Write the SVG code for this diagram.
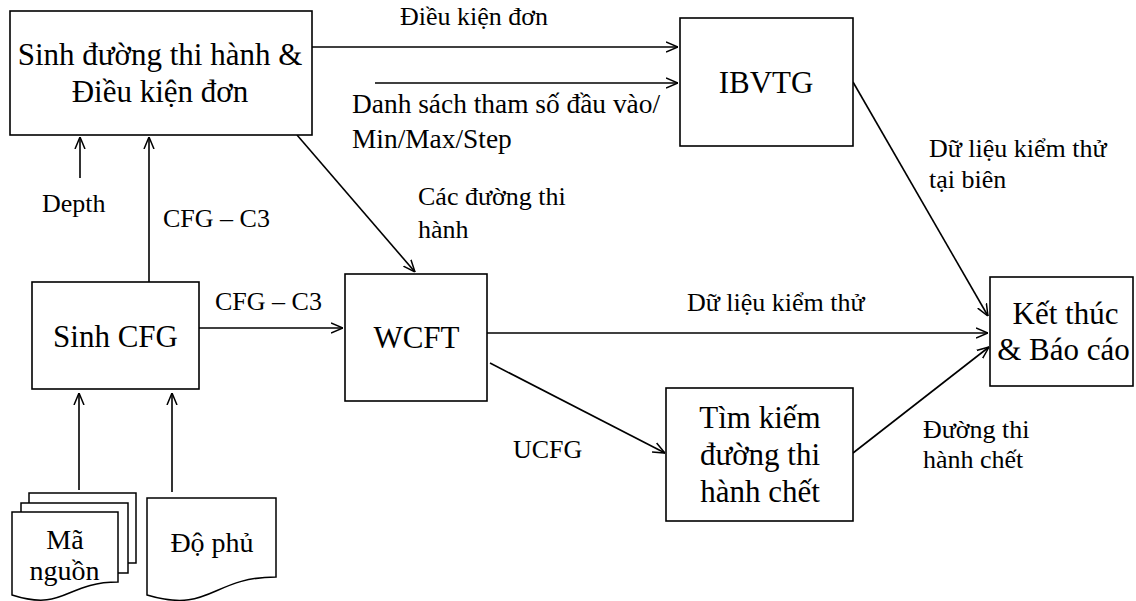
<svg xmlns="http://www.w3.org/2000/svg" width="1136" height="601" viewBox="0 0 1136 601">
  <defs>
    <style>
      .box { fill: #fff; stroke: #000; stroke-width: 1.6; }
      .doc { fill: #fff; stroke: #000; stroke-width: 1.5; stroke-linejoin: miter; }
      .edge { fill: none; stroke: #000; stroke-width: 1.6; marker-end: url(#arr); }
      .t { font-family: "Liberation Serif", "Times New Roman", serif; fill: #000; }
      .big { font-size: 31px; text-anchor: middle; }
      .docT { font-size: 28px; text-anchor: middle; }
      .lbl { font-size: 26px; }
    </style>
    <marker id="arr" viewBox="0 0 12 12" refX="12" refY="6" markerWidth="12" markerHeight="12" markerUnits="userSpaceOnUse" orient="auto">
      <path d="M0,1 L12,6 L0,11" fill="none" stroke="#000" stroke-width="1.5"/>
    </marker>
  </defs>
  <rect width="1136" height="601" fill="#fff"/>

  <g id="connectors">
    <line class="edge" x1="312" y1="47" x2="678" y2="47"/>
    <line class="edge" x1="375" y1="83" x2="678" y2="83"/>
    <line class="edge" x1="80" y1="178" x2="80" y2="137"/>
    <line class="edge" x1="149" y1="282" x2="149" y2="137"/>
    <line class="edge" x1="297" y1="135" x2="415" y2="272"/>
    <line class="edge" x1="199" y1="328" x2="343" y2="328"/>
    <line class="edge" x1="79" y1="490" x2="79" y2="393"/>
    <line class="edge" x1="172" y1="492" x2="172" y2="393"/>
    <line class="edge" x1="487" y1="333" x2="988" y2="333"/>
    <line class="edge" x1="490" y1="363" x2="665" y2="453"/>
    <line class="edge" x1="853" y1="82" x2="988" y2="316"/>
    <line class="edge" x1="853" y1="453" x2="989" y2="347"/>
  </g>

  <g id="edge-labels" class="t lbl">
    <text x="400" y="25">Điều kiện đơn</text>
    <text x="352" y="113" style="font-size:27.4px">Danh sách tham số đầu vào/</text>
    <text x="352" y="148" style="font-size:27.4px">Min/Max/Step</text>
    <text x="42" y="212">Depth</text>
    <text x="163" y="227">CFG – C3</text>
    <text x="418" y="205">Các đường thi</text>
    <text x="418" y="238">hành</text>
    <text x="215" y="310">CFG – C3</text>
    <text x="929" y="157">Dữ liệu kiểm thử</text>
    <text x="929" y="188">tại biên</text>
    <text x="687" y="311">Dữ liệu kiểm thử</text>
    <text x="513" y="458">UCFG</text>
    <text x="923" y="438">Đường thi</text>
    <text x="923" y="468">hành chết</text>
  </g>

  <g id="sinh-duong">
    <rect class="box" x="10" y="11" width="302" height="124"/>
    <text class="t big" x="160" y="65">Sinh đường thi hành &amp;</text>
    <text class="t big" x="160" y="102">Điều kiện đơn</text>
  </g>

  <g id="ibvtg">
    <rect class="box" x="680" y="18" width="173" height="128"/>
    <text class="t big" x="766" y="93">IBVTG</text>
  </g>

  <g id="sinh-cfg">
    <rect class="box" x="32" y="282" width="167" height="107"/>
    <text class="t big" x="115.5" y="347">Sinh CFG</text>
  </g>

  <g id="wcft">
    <rect class="box" x="345" y="274" width="142" height="127"/>
    <text class="t big" x="416.5" y="348">WCFT</text>
  </g>

  <g id="tim-kiem">
    <rect class="box" x="666" y="388" width="187" height="133"/>
    <text class="t big" x="760" y="428">Tìm kiếm</text>
    <text class="t big" x="760" y="465">đường thi</text>
    <text class="t big" x="760" y="502">hành chết</text>
  </g>

  <g id="ket-thuc">
    <rect class="box" x="990" y="277" width="143" height="109"/>
    <text class="t big" x="1065.5" y="324">Kết thúc</text>
    <text class="t big" x="1063.5" y="360">&amp; Báo cáo</text>
  </g>

  <g id="ma-nguon">
    <path class="doc" d="M29,503 V493 H136 V563 H128"/>
    <path class="doc" d="M21,512 V503 H128 V573 H118"/>
    <path class="doc" d="M12,512 H118 V582 C65,582 65,612 12,595 Z"/>
    <text class="t docT" x="65" y="549">Mã</text>
    <text class="t docT" x="64.5" y="580">nguồn</text>
  </g>

  <g id="do-phu">
    <path class="doc" d="M147,498 H276 V577 C211,577 211,614 147,595 Z"/>
    <text class="t docT" x="212" y="552">Độ phủ</text>
  </g>
</svg>
